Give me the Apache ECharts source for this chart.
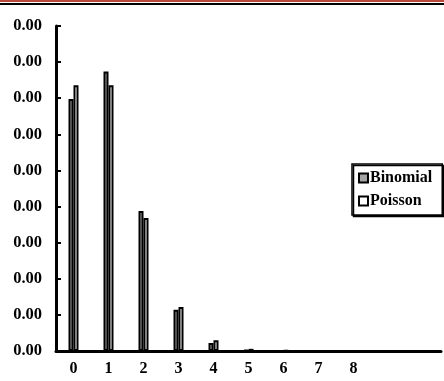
<!DOCTYPE html>
<html>
<head>
<meta charset="utf-8">
<script src="https://cdn.jsdelivr.net/npm/echarts@6/dist/echarts.min.js"></script>
<style>
  html, body { margin: 0; padding: 0; background: #fff; }
  #chart { width: 444px; height: 381px; }
</style>
</head>
<body>
<div id="chart"></div>
<script>
// Number of successes (x axis); the last two slots stay empty
const categories = ['0', '1', '2', '3', '4', '5', '6', '7', '8', '', ''];
// Binomial probabilities
const binomial = [0.349, 0.387, 0.194, 0.057, 0.011, 0.0015, 0.00014, 0.00001, 0.000001, null, null];
// Poisson approximation
const poisson = [0.368, 0.368, 0.184, 0.061, 0.015, 0.003, 0.0005, 0.00007, 0.00001, null, null];
// Y tick labels as printed on the axis
const yTickLabels = ['0.00', '0.00', '0.00', '0.00', '0.00', '0.00', '0.00', '0.00', '0.00', '0.00'];
const yStep = 0.05;

const FONT = '"Liberation Serif", "Times New Roman", serif';

const chart = echarts.init(document.getElementById('chart'), null, { renderer: 'canvas' });

chart.setOption({
  animation: false,
  backgroundColor: '#fff',
  grid: { left: 56, right: 3, top: 26, bottom: 30, containLabel: false },
  legend: {
    data: ['Binomial', 'Poisson'],
    orient: 'vertical',
    left: 352,
    top: 164,
    padding: [6, 10, 6, 6],
    itemGap: 7,
    itemWidth: 9,
    itemHeight: 9,
    icon: 'rect',
    backgroundColor: '#fff',
    borderColor: '#000',
    borderWidth: 1.5,
    shadowColor: '#000',
    shadowBlur: 0,
    shadowOffsetX: 1.5,
    shadowOffsetY: 1.5,
    textStyle: { fontFamily: FONT, fontWeight: 'bold', fontSize: 16, color: '#000', padding: [0, 0, 0, -3] }
  },
  xAxis: {
    type: 'category',
    data: categories,
    axisLine: { lineStyle: { color: '#000', width: 3 } },
    axisTick: { show: false },
    axisLabel: { fontFamily: FONT, fontWeight: 'bold', fontSize: 16, color: '#000', margin: 10 }
  },
  yAxis: {
    type: 'value',
    min: 0,
    max: 0.45,
    interval: yStep,
    axisLine: { show: true, lineStyle: { color: '#000', width: 3 } },
    axisTick: { show: true, inside: true, length: 5, lineStyle: { color: '#000', width: 2 } },
    splitLine: { show: false },
    axisLabel: {
      fontFamily: FONT, fontWeight: 'bold', fontSize: 16.5, color: '#000', margin: 14,
      formatter: v => yTickLabels[Math.round(v / yStep)]
    }
  },
  series: [
    {
      name: 'Binomial', type: 'bar', data: binomial,
      barWidth: 5, barGap: '0%',
      itemStyle: { color: '#a3a3a3', borderColor: '#000', borderWidth: 2 }
    },
    {
      name: 'Poisson', type: 'bar', data: poisson,
      barWidth: 5, barGap: '0%',
      itemStyle: { color: '#fff', borderColor: '#000', borderWidth: 2 }
    }
  ],
  graphic: [
    { type: 'rect', shape: { x: 0, y: 0, width: 444, height: 2 }, style: { fill: '#b9473a' } },
    { type: 'rect', shape: { x: 0, y: 3, width: 444, height: 2 }, style: { fill: '#000' } }
  ]
});
</script>
</body>
</html>
